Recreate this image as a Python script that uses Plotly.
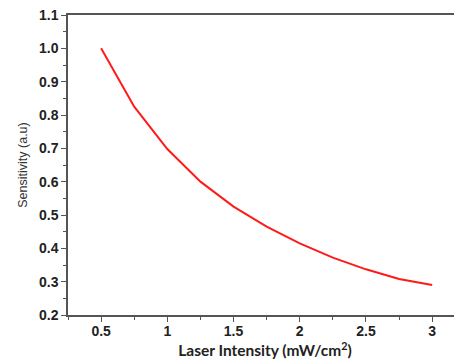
import plotly.graph_objects as go

intensity = [0.5, 0.75, 1.0, 1.25, 1.5, 1.75, 2.0, 2.25, 2.5, 2.75, 3.0]
sensitivity = [1.0, 0.825, 0.698, 0.600, 0.525, 0.465, 0.415, 0.372, 0.337, 0.308, 0.290]

x_ticks = [0.5, 1, 1.5, 2, 2.5, 3]
x_labels = ["0.5", "1", "1.5", "2", "2.5", "3"]
y_ticks = [0.2, 0.3, 0.4, 0.5, 0.6, 0.7, 0.8, 0.9, 1.0, 1.1]
y_labels = ["0.2", "0.3", "0.4", "0.5", "0.6", "0.7", "0.8", "0.9", "1.0", "1.1"]

fig = go.Figure()
fig.add_trace(go.Scatter(x=intensity, y=sensitivity, mode="lines",
                         line=dict(color="#ff1a1a", width=2), showlegend=False))

axis_color = "#555555"
fig.update_layout(
    width=454, height=352,
    margin=dict(l=60, r=0, t=7, b=45),
    plot_bgcolor="white", paper_bgcolor="white",
    xaxis=dict(
        range=[0.25, 3.225], tickvals=x_ticks, ticktext=x_labels,
        showgrid=False, zeroline=False, showline=True, linecolor=axis_color, linewidth=1.5,
        mirror=True, ticks="outside", ticklen=5, tickcolor=axis_color, tickwidth=1,
        ticklabeloverflow="allow", ticklabelstandoff=-3,
        minor=dict(ticks="outside", ticklen=3, dtick=0.25, tick0=0.25, tickcolor=axis_color, showgrid=False),
        tickfont=dict(family="Liberation Sans, Arial", size=14, color="#222222", weight="bold"),
        title=dict(text="Laser Intensity (mW/cm<sup>2</sup>)", standoff=4,
                   font=dict(family="Lato, Open Sans", size=15.5, color="#222222", weight="bold")),
    ),
    yaxis=dict(
        range=[0.2, 1.1], tickvals=y_ticks, ticktext=y_labels,
        showgrid=False, zeroline=False, showline=True, linecolor=axis_color, linewidth=1.5,
        ticks="outside", ticklen=5, tickcolor=axis_color, tickwidth=1,
        ticklabeloverflow="allow",
        minor=dict(ticks="outside", ticklen=3, dtick=0.05, tick0=0.2, tickcolor=axis_color, showgrid=False),
        tickfont=dict(family="Liberation Sans, Arial", size=14, color="#222222", weight="bold"),
        title=dict(text="Sensitivity (a.u)", standoff=9,
                   font=dict(family="Liberation Sans, Arial", size=12.5, color="#333333")),
    ),
)

fig.write_html("out.html")
